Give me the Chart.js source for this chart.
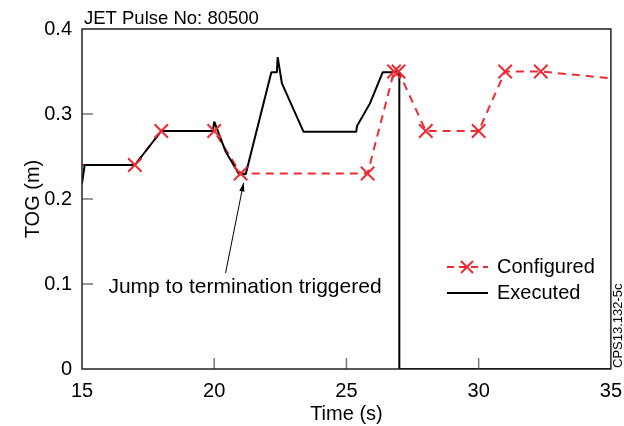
<!DOCTYPE html>
<html>
<head>
<meta charset="utf-8">
<script src="https://cdn.jsdelivr.net/npm/chart.js@4.4.1/dist/chart.umd.min.js"></script>
<style>
  html, body { margin: 0; padding: 0; background: #fff; }
  #wrap { width: 624px; height: 426px; }
</style>
</head>
<body>
<div id="wrap"><canvas id="tog" width="624" height="426"></canvas></div>
<script>
// Configured TOG trajectory (red dashed, x markers)
const configuredTime = [15, 17, 18, 20, 21, 25.8, 26.8, 26.97, 28, 30, 31.0, 32.35, 35];
const configuredTog = [0.24, 0.24, 0.28, 0.28, 0.23, 0.23, 0.35, 0.35, 0.28, 0.28, 0.35, 0.35, 0.342];
const configuredMarker = [0, 9.5, 9.5, 9.5, 9.5, 9.5, 9.5, 9.5, 9.5, 9.5, 9.5, 9.5, 0];

// Executed TOG (black solid)
const executedTime = [15, 15.1, 17, 18, 19.95, 20.0, 20.43, 20.94, 21.19, 22.16, 22.37, 22.4, 22.56, 23.38, 25.37, 25.4, 25.89, 26.37, 27.0, 27.0, 35];
const executedTog = [0.218, 0.24, 0.24, 0.28, 0.28, 0.291, 0.256, 0.229, 0.229, 0.349, 0.349, 0.367, 0.336, 0.279, 0.279, 0.286, 0.3125, 0.349, 0.349, 0, 0];

const xInnerTicks = [20, 25, 30];
const yInnerTicks = [0.1, 0.2, 0.3];

const RED = '#ee2a35';
const FONT = 'Liberation Sans, Arial, sans-serif';

function pairs(xs, ys) {
    return xs.map(function (x, i) { return { x: x, y: ys[i] }; });
}

// frame, inward ticks, legend, annotation, labels
const decorations = {
    id: 'decorations',
    afterDraw(chart) {
        const ctx = chart.ctx;
        const a = chart.chartArea;
        const xs = chart.scales.x, ys = chart.scales.y;
        ctx.save();

        ctx.strokeStyle = '#777';
        ctx.lineWidth = 1.5;
        xInnerTicks.forEach(function (v) {
            const px = xs.getPixelForValue(v);
            ctx.beginPath(); ctx.moveTo(px, a.bottom); ctx.lineTo(px, a.bottom - 11); ctx.stroke();
        });
        yInnerTicks.forEach(function (v) {
            const py = ys.getPixelForValue(v);
            ctx.beginPath(); ctx.moveTo(a.left, py); ctx.lineTo(a.left + 11, py); ctx.stroke();
        });

        ctx.strokeStyle = '#222';
        ctx.lineWidth = 1.5;
        ctx.strokeRect(a.left, a.top, a.right - a.left, a.bottom - a.top);

        // title
        ctx.fillStyle = '#000';
        ctx.font = '18.5px ' + FONT;
        ctx.textAlign = 'left';
        ctx.textBaseline = 'alphabetic';
        ctx.fillText('JET Pulse No: 80500', a.left + 2, 24);

        // legend
        ctx.font = '20px ' + FONT;
        ctx.textBaseline = 'middle';
        ctx.strokeStyle = RED;
        ctx.lineWidth = 2;
        ctx.setLineDash([7, 5]);
        ctx.beginPath(); ctx.moveTo(447, 267); ctx.lineTo(488, 267); ctx.stroke();
        ctx.setLineDash([]);
        ctx.beginPath();
        ctx.moveTo(461, 261); ctx.lineTo(473, 273);
        ctx.moveTo(473, 261); ctx.lineTo(461, 273);
        ctx.stroke();
        ctx.fillText('Configured', 497, 267);
        ctx.strokeStyle = '#000';
        ctx.beginPath(); ctx.moveTo(447, 293); ctx.lineTo(488, 293); ctx.stroke();
        ctx.fillText('Executed', 497, 293);

        // annotation arrow
        const tx = xs.getPixelForValue(21.11), ty = ys.getPixelForValue(0.219);
        const fx = xs.getPixelForValue(20.43), fy = ys.getPixelForValue(0.113);
        ctx.strokeStyle = '#000';
        ctx.lineWidth = 1;
        ctx.beginPath(); ctx.moveTo(fx, fy); ctx.lineTo(tx, ty); ctx.stroke();
        const ang = Math.atan2(ty - fy, tx - fx);
        ctx.beginPath();
        ctx.moveTo(tx, ty);
        ctx.lineTo(tx - 9 * Math.cos(ang - 0.3), ty - 9 * Math.sin(ang - 0.3));
        ctx.lineTo(tx - 9 * Math.cos(ang + 0.3), ty - 9 * Math.sin(ang + 0.3));
        ctx.closePath();
        ctx.fill();
        ctx.textAlign = 'center';
        ctx.font = '21px ' + FONT;
        ctx.fillText('Jump to termination triggered', 245, 287);

        // figure id
        ctx.font = '13px ' + FONT;
        ctx.translate(618, 368);
        ctx.rotate(-Math.PI / 2);
        ctx.textAlign = 'left';
        ctx.fillText('CPS13.132-5c', 0, 0);
        ctx.restore();
    }
};

new Chart(document.getElementById('tog'), {
    type: 'line',
    data: {
        datasets: [{
            label: 'Configured markers',
            data: pairs(configuredTime, configuredTog),
            showLine: false,
            pointStyle: 'crossRot',
            pointRadius: configuredMarker,
            pointBorderColor: RED,
            pointBorderWidth: 2,
            order: 0
        }, {
            label: 'Executed',
            data: pairs(executedTime, executedTog),
            borderColor: '#000',
            borderWidth: 2,
            borderJoinStyle: 'bevel',
            pointRadius: 0,
            tension: 0,
            order: 1
        }, {
            label: 'Configured',
            data: pairs(configuredTime, configuredTog),
            borderColor: RED,
            borderWidth: 2,
            borderDash: [8, 6],
            pointRadius: 0,
            tension: 0,
            order: 2
        }]
    },
    options: {
        responsive: false,
        animation: false,
        layout: { padding: { top: 29, right: 12, left: 0, bottom: 0 } },
        plugins: { legend: { display: false }, tooltip: { enabled: false } },
        scales: {
            x: {
                type: 'linear', min: 15, max: 35,
                afterFit: function (s) { s.height = 57; },
                ticks: { stepSize: 5, color: '#000', font: { family: FONT, size: 20 }, padding: 2, maxRotation: 0 },
                grid: { display: false },
                border: { display: false },
                title: { display: true, text: 'Time (s)', color: '#000', font: { family: FONT, size: 20 }, padding: { top: 8, bottom: 0 } }
            },
            y: {
                min: 0, max: 0.4,
                afterFit: function (s) { s.width = 82; },
                ticks: {
                    stepSize: 0.1, color: '#000', font: { family: FONT, size: 20 }, padding: 2,
                    callback: function (v) { return v === 0 ? '0' : v.toFixed(1); }
                },
                grid: { display: false },
                border: { display: false },
                title: { display: true, text: 'TOG (m)', color: '#000', font: { family: FONT, size: 20 }, padding: { top: 21, bottom: 0 } }
            }
        }
    },
    plugins: [decorations]
});
</script>
</body>
</html>
